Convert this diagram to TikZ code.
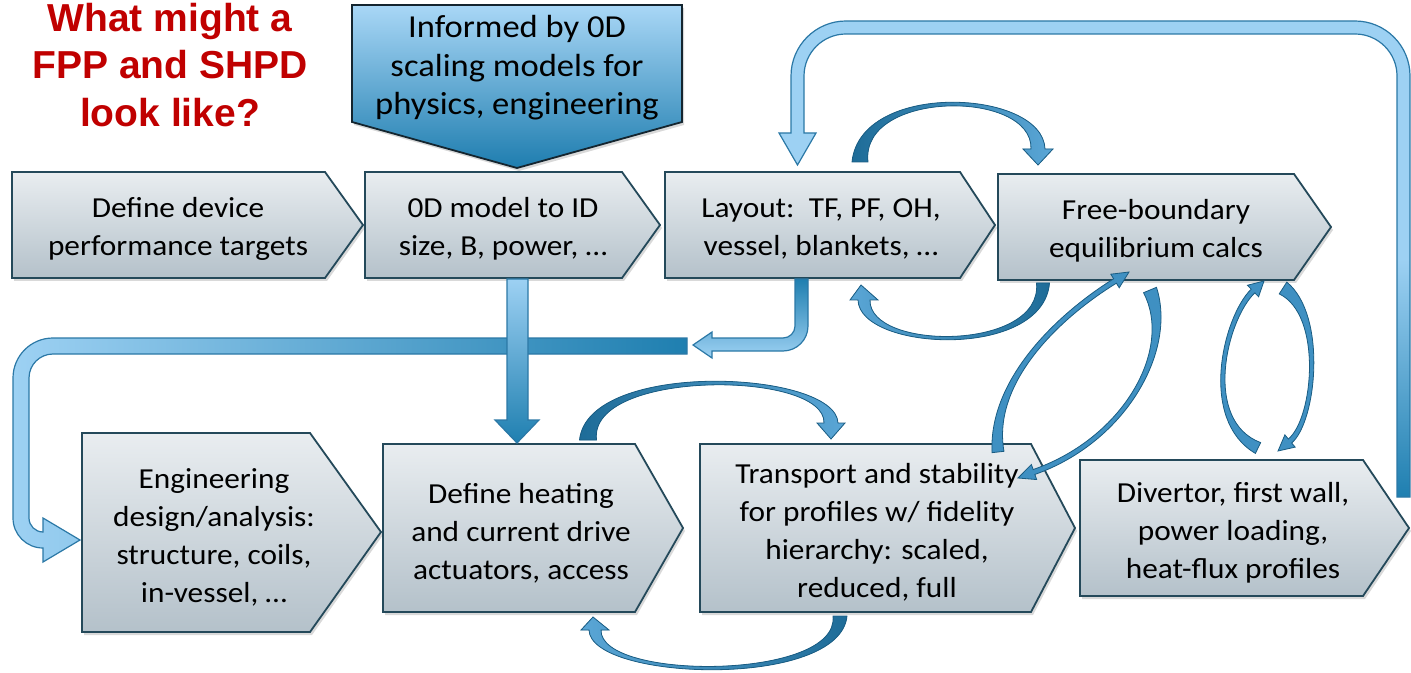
\documentclass[tikz,border=0pt]{standalone}
\usepackage{fontspec}
\setmainfont{Carlito}[FakeStretch=1.08]
\newfontfamily\titlefont{Liberation Sans}
\usetikzlibrary{calc,shadows}

\definecolor{boxTop}{HTML}{E9EDF0}
\definecolor{boxBot}{HTML}{B4C1CA}
\definecolor{boxLine}{HTML}{24495A}
\definecolor{infoTop}{HTML}{A9D7F6}
\definecolor{infoBot}{HTML}{1E7DAF}
\definecolor{infoLine}{HTML}{14252F}
\definecolor{barLight}{HTML}{9DD1F3}
\definecolor{barDark}{HTML}{1F7FB0}
\definecolor{barLine}{HTML}{2B78A6}
\definecolor{cvDark}{HTML}{1E6C98}
\definecolor{cvLight}{HTML}{5AA6D6}
\definecolor{cvThin}{HTML}{3F90C2}
\definecolor{cvLine}{HTML}{1A5C82}
\definecolor{titleRed}{HTML}{C00000}

\tikzset{
  chev/.style={top color=boxTop, bottom color=boxBot, draw=boxLine, line width=0.9pt,
    drop shadow={shadow xshift=1pt, shadow yshift=-1.5pt, opacity=0.3}},
  txt/.style={align=center, inner sep=0pt, font=\fontsize{14.5}{19}\selectfont},
  band/.style={draw=barLine, line width=0.6pt},
  cvline/.style={draw=cvLine, line width=0.4pt, fill=cvThin},
}

% tapered curved arrow: tail, control 1, control 2, head base, tip, widths tail/mid/neck/head
\def\cvparse#1/#2/#3/#4\relax{\def\cvA{#1}\def\cvB{#2}\def\cvC{#3}\def\cvD{#4}}
\newcommand{\cvarrow}[7][]{%
  \cvparse#7\relax
  \path (#2) coordinate (cv0) (#3) coordinate (cv1) (#4) coordinate (cv2)
        (#5) coordinate (cv3) (#6) coordinate (cv4);
  \filldraw[cvline,#1]
    ($(cv0)!\cvA!90:(cv1)$) .. controls ($(cv1)!\cvB!90:(cv2)$) and ($(cv2)!\cvB!90:(cv3)$) .. ($(cv3)!\cvC!-90:(cv2)$)
    -- ($(cv3)!\cvD!-90:(cv2)$) -- (cv4) -- ($(cv3)!\cvD!90:(cv2)$) -- ($(cv3)!\cvC!90:(cv2)$)
    .. controls ($(cv2)!\cvB!-90:(cv3)$) and ($(cv1)!\cvB!-90:(cv2)$) .. ($(cv0)!\cvA!-90:(cv1)$) -- cycle;
}

\begin{document}
\begin{tikzpicture}[x=0.5pt,y=0.5pt]
  \useasboundingbox (0,0) rectangle (1411,-673);

  \node[font=\titlefont\bfseries\fontsize{19.5}{23.75}\selectfont, text=titleRed, align=center] (title) at (170,-65) {What might a\\FPP and SHPD\\look like?};

  \shadedraw[top color=infoTop, bottom color=infoBot, draw=infoLine, line width=0.9pt,
    drop shadow={shadow xshift=1pt, shadow yshift=-1.5pt, opacity=0.3}]
    (352,-5) -- (682,-5) -- (682,-122) -- (517,-168) -- (352,-122) -- cycle;
  \node[txt, font=\fontsize{16}{19.25}\selectfont] (inform) at (517,-68) {Informed by 0D\\scaling models for\\physics, engineering};

  % top row
  \shadedraw[chev] (12,-172) -- (325,-172) -- (363,-225) -- (325,-278) -- (12,-278) -- cycle;
  \shadedraw[chev] (365,-172) -- (622,-172) -- (660,-225) -- (622,-278) -- (365,-278) -- cycle;
  \shadedraw[chev] (665,-172) -- (960,-172) -- (995,-225) -- (960,-278) -- (665,-278) -- cycle;
  \shadedraw[chev] (998,-174) -- (1294,-174) -- (1331,-227) -- (1294,-280) -- (998,-280) -- cycle;
  % bottom row
  \shadedraw[chev] (82,-433) -- (310,-433) -- (381,-532) -- (310,-632) -- (82,-632) -- cycle;
  \shadedraw[chev] (383,-444) -- (635,-444) -- (683,-528) -- (635,-612) -- (383,-612) -- cycle;
  \shadedraw[chev] (700,-444) -- (1031,-444) -- (1075,-528) -- (1031,-612) -- (700,-612) -- cycle;
  \shadedraw[chev] (1080,-460) -- (1363,-460) -- (1409,-528) -- (1363,-596) -- (1080,-596) -- cycle;

  \node[txt] (target) at (178,-229) {Define device\\performance targets};
  \node[txt] (zeroD) at (503,-229) {0D model to ID\\size, B, power, …};
  \node[txt] (layout) at (821,-229) {Layout:\ \ TF, PF, OH,\\vessel, blankets, …};
  \node[txt] (equil) at (1156,-231) {Free-boundary\\equilibrium calcs};
  \node[txt] (engin) at (214,-537) {Engineering\\design/analysis:\\structure, coils,\\in-vessel, …};
  \node[txt] (heat) at (521,-533) {Define heating\\and current drive\\actuators, access};
  \node[txt] (transp) at (877,-532) {Transport and stability\\for profiles w/ fidelity\\hierarchy: scaled,\\reduced, full};
  \node[txt] (divert) at (1233,-533) {Divertor, first wall,\\power loading,\\heat-flux profiles};

  % feedback from divertor back to layout
  \shadedraw[band, top color=barLight, bottom color=barDark, middle color=barLight]
    (1410,-497) -- (1410,-76) arc[start angle=0,end angle=90,radius=55] -- (846,-21)
    arc[start angle=90,end angle=180,radius=55] -- (791,-133) -- (779,-133) -- (797.5,-165)
    -- (816,-133) -- (804,-133) -- (804,-76) arc[start angle=180,end angle=90,radius=42]
    -- (1355,-34) arc[start angle=90,end angle=0,radius=42] -- (1397,-497) -- cycle;

  % loop into engineering
  \shadedraw[band, left color=barLight, right color=barDark]
    (687,-338) -- (53,-338) arc[start angle=90,end angle=180,radius=40] -- (13,-518)
    arc[start angle=180,end angle=270,radius=30] -- (43,-562) -- (80,-540) -- (43,-518)
    -- (43,-532) arc[start angle=270,end angle=180,radius=14] -- (29,-378)
    arc[start angle=180,end angle=90,radius=24] -- (687,-354) -- cycle;

  % layout down and left
  \shadedraw[band, top color=barDark, bottom color=barLight]
    (795,-279) -- (808,-279) -- (808,-326) arc[start angle=0,end angle=-90,radius=25]
    -- (712,-351) -- (712,-358) -- (693,-345) -- (712,-332) -- (712,-338) -- (783,-338)
    arc[start angle=-90,end angle=0,radius=12] -- cycle;

  % 0D model down to heating
  \shadedraw[band, top color=barLight, bottom color=barDark]
    (507,-279) -- (507,-420) -- (495,-420) -- (517,-443) -- (539,-420) -- (528,-420) -- (528,-279) -- cycle;

  % curved arrows
  \cvarrow[left color=cvDark, right color=cvLight]{860,-162}{860,-85}{1038,-89}{1038,-149}{1038,-165}{4pt/2.5pt/3.5pt/7.5pt}
  \cvarrow[left color=cvLight, right color=cvDark]{1043,-283}{1043,-356}{864,-351}{864,-300}{861,-285}{3.25pt/2.3pt/3pt/7pt}
  \cvarrow[left color=cvDark, right color=cvLight]{588,-440}{588,-364}{831,-370}{831,-423}{831,-439}{4.25pt/2.5pt/3.5pt/7pt}
  \cvarrow[left color=cvLight, right color=cvDark]{840,-616}{840,-685}{595,-681}{595,-630}{593,-617}{3.5pt/2.3pt/3pt/7pt}

  \cvarrow{998,-452}{990,-380}{1060,-315}{1115,-281}{1129,-272}{3pt/1.2pt/1.3pt/4pt}
  \cvarrow{1150,-290}{1175,-350}{1125,-440}{1034,-472}{1018,-478}{3.5pt/1.2pt/1.3pt/4pt}
  \cvarrow{1258,-448}{1200,-420}{1225,-318}{1253,-291}{1264,-281}{3pt/1.2pt/1.3pt/4pt}
  \cvarrow{1283,-288}{1325,-315}{1315,-420}{1290,-441}{1278,-451}{3.5pt/1.2pt/1.3pt/4pt}
\end{tikzpicture}
\end{document}
